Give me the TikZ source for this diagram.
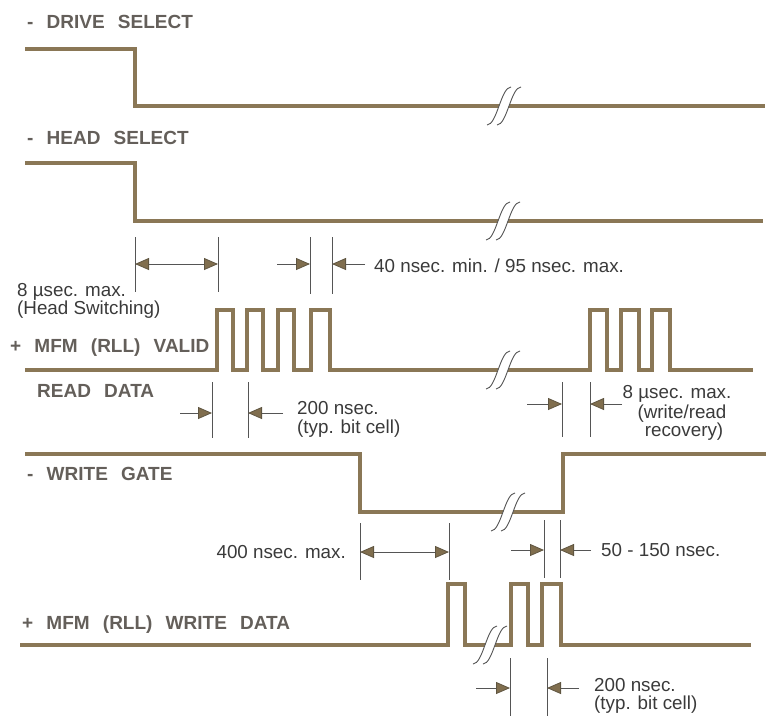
\documentclass[tikz,border=0pt]{standalone}
\usepackage{fontspec}
\setmainfont{Liberation Sans}
\newfontfamily\sigfont[WordSpace=2.5]{Liberation Sans}
\usetikzlibrary{arrows.meta}

\definecolor{sigbrown}{RGB}{138,119,86}
\definecolor{tickgray}{RGB}{85,85,85}
\definecolor{tipbrown}{RGB}{128,110,78}
\definecolor{tipedge}{RGB}{95,85,65}
\definecolor{labelgray}{RGB}{100,95,90}
\definecolor{notegray}{RGB}{58,58,58}

\tikzset{
	dimtip/.tip={Triangle[length=14pt,width=12pt,color=tipedge,fill=tipbrown,line width=0.8pt]},
}

\newcommand{\sigbreak}[2]
{\begin{scope}[shift={(#1,#2)}]
	\fill[white] (-17,19) .. controls (-7,19) and (-3,-19) .. (7,-19) -- (17,-19) .. controls (7,-19) and (3,19) .. (-7,19) -- cycle;
	\draw[brk] (-17,19) .. controls (-7,19) and (-3,-19) .. (7,-19);
	\draw[brk] (-7,19) .. controls (3,19) and (7,-19) .. (17,-19);
	\end{scope}
}
\newcommand{\vticks}[3]
{\foreach \x in {#1}
		{\draw[dimline] (\x,#2)--(\x,#3);
			};
}

\begin{document}
\begin{tikzpicture}[x=1pt,y=-1pt,
	sig/.style={draw=sigbrown,line width=4.5pt},
	brk/.style={draw=tickgray,line width=0.9pt},
	dimline/.style={draw=tickgray,line width=0.9pt},
	dimto/.style={dimline,arrows={-dimtip}},
	dimboth/.style={dimline,arrows={dimtip-dimtip}},
	siglabel/.style={font=\sigfont\bfseries\fontsize{19}{22}\selectfont,text=labelgray,inner sep=0pt,anchor=base west},
	note/.style={font=\fontsize{18.8}{20}\selectfont,text=notegray,inner sep=0pt,anchor=base west}]
\useasboundingbox (0,0) rectangle (766,716);

% drive select
\node[siglabel] (drv) at (27,28) {- DRIVE SELECT};
\draw[sig] (25,49) -- (135,49) -- (135,106) -- (765,106);
\sigbreak{504}{106}

% head select
\node[siglabel] (hds) at (27,144) {- HEAD SELECT};
\draw[sig] (25,163) -- (135,163) -- (135,221) -- (763,221);
\sigbreak{503}{221}

\vticks{135,218}{237}{292}
\vticks{310,332}{237}{294}
\coordinate (hsA) at (135,264);
\coordinate (hsB) at (218,264);
\coordinate (vdA) at (277,264);
\coordinate (vdB) at (310,264);
\coordinate (vdC) at (332,264);
\coordinate (vdD) at (365,264);
\draw[dimboth] (hsA) -- (hsB);
\draw[dimto] (vdA) -- (vdB);
\draw[dimto] (vdD) -- (vdC);
\node[note] (hsw1) at (17,296) {8 µsec. max.};
\node[note] (hsw2) at (17,314) {(Head Switching)};
\node[note] (vdt) at (374,272) {40 nsec. min. / 95 nsec. max.};

% read data
\node[siglabel] (vld) at (10,352) {+ MFM (RLL) VALID};
\node[siglabel] (rdd) at (37,397) {READ DATA};
\draw[sig] (25,370) foreach \r/\f in {217/233,247/263,278/294,311/330} { -- (\r,370) -- (\r,310) -- (\f,310) -- (\f,370) }
	foreach \r/\f in {590/607,621/639,652/670} { -- (\r,370) -- (\r,310) -- (\f,310) -- (\f,370) } -- (753,370);
\sigbreak{503}{370}

\vticks{212,248}{382}{438}
\vticks{562,590}{382}{437}
\coordinate (rbA) at (180,413);
\coordinate (rbB) at (212,413);
\coordinate (rbC) at (248,413);
\coordinate (rbD) at (283,413);
\draw[dimto] (rbA) -- (rbB);
\draw[dimto] (rbD) -- (rbC);
\node[note] (rbc1) at (297,414) {200 nsec.};
\node[note] (rbc2) at (297,433) {(typ. bit cell)};
\coordinate (wrA) at (527,404);
\coordinate (wrB) at (562,404);
\coordinate (wrC) at (590,404);
\coordinate (wrD) at (622,404);
\draw[dimto] (wrA) -- (wrB);
\draw[dimto] (wrD) -- (wrC);
\node[note,anchor=base] (wrr1) at (677,398) {8 µsec. max.};
\node[note,anchor=base] (wrr2) at (682,418) {(write/read};
\node[note,anchor=base] (wrr3) at (684,436) {recovery)};

% write gate
\node[siglabel] (wgt) at (27,480) {- WRITE GATE};
\draw[sig] (25,454) -- (360,454) -- (360,512) -- (563,512) -- (563,454) -- (766,454);
\sigbreak{508}{512}

\vticks{360,449}{523}{580}
\vticks{544,560}{520}{578}
\coordinate (wgA) at (360,552);
\coordinate (wgB) at (449,552);
\coordinate (whA) at (511,550);
\coordinate (whB) at (544,550);
\coordinate (whC) at (560,550);
\coordinate (whD) at (591,550);
\draw[dimboth] (wgA) -- (wgB);
\draw[dimto] (whA) -- (whB);
\draw[dimto] (whD) -- (whC);
\node[note,anchor=base east] (wgs) at (346,558) {400 nsec. max.};
\node[note] (whd) at (601,556) {50 - 150 nsec.};

% write data
\node[siglabel] (wrd) at (22,629) {+ MFM (RLL) WRITE DATA};
\draw[sig] (20,645) foreach \r/\f in {448/465,511/528,542/561} { -- (\r,645) -- (\r,584) -- (\f,584) -- (\f,645) } -- (751,645);
\sigbreak{490}{645}

\vticks{510,547}{658}{716}
\coordinate (wbA) at (476,688);
\coordinate (wbB) at (510,688);
\coordinate (wbC) at (547,688);
\coordinate (wbD) at (579,688);
\draw[dimto] (wbA) -- (wbB);
\draw[dimto] (wbD) -- (wbC);
\node[note] (wbc1) at (594,691) {200 nsec.};
\node[note] (wbc2) at (594,709) {(typ. bit cell)};
\end{tikzpicture}
\end{document}
